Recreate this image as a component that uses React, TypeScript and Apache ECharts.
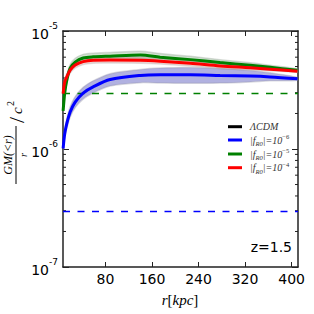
import React, { useEffect, useRef } from "react";
import * as echarts from "echarts";

const XMIN = 7;
const XMAX = 411;
const X_TICKS = [80, 160, 240, 320, 400];
const Y_MIN = 1e-7;
const Y_MAX = 1e-5;
const Y_MINOR = [2e-7, 3e-7, 4e-7, 5e-7, 6e-7, 7e-7, 8e-7, 9e-7, 2e-6, 3e-6, 4e-6, 5e-6, 6e-6, 7e-6, 8e-6, 9e-6];

const R = [7.2, 10, 13.6, 19.3, 27.9, 41.6, 58.8, 88, 140, 174, 226, 277, 329, 363, 410];

const BLUE = [1.01e-6, 1.35e-6, 1.65e-6, 2.06e-6, 2.5e-6, 2.98e-6, 3.36e-6, 3.88e-6, 4.2e-6, 4.25e-6, 4.25e-6, 4.2e-6, 4.15e-6, 4.08e-6, 3.93e-6];
const BLUE_LO = [0.94e-6, 1.24e-6, 1.5e-6, 1.86e-6, 2.24e-6, 2.65e-6, 2.98e-6, 3.42e-6, 3.65e-6, 3.62e-6, 3.6e-6, 3.62e-6, 3.7e-6, 3.78e-6, 3.82e-6];
const BLUE_HI = [1.09e-6, 1.47e-6, 1.81e-6, 2.28e-6, 2.78e-6, 3.33e-6, 3.78e-6, 4.35e-6, 4.72e-6, 4.85e-6, 4.9e-6, 4.8e-6, 4.62e-6, 4.42e-6, 4.05e-6];

const GREEN = [2.1e-6, 3.0e-6, 3.85e-6, 4.84e-6, 5.45e-6, 5.9e-6, 6.04e-6, 6.12e-6, 6.25e-6, 6.0e-6, 5.72e-6, 5.4e-6, 5.12e-6, 4.92e-6, 4.64e-6];
const GREEN_LO = [1.95e-6, 2.8e-6, 3.58e-6, 4.5e-6, 5.07e-6, 5.49e-6, 5.62e-6, 5.69e-6, 5.81e-6, 5.6e-6, 5.35e-6, 5.1e-6, 4.88e-6, 4.74e-6, 4.52e-6];
const GREEN_HI = [2.26e-6, 3.22e-6, 4.14e-6, 5.2e-6, 5.86e-6, 6.34e-6, 6.49e-6, 6.58e-6, 6.72e-6, 6.45e-6, 6.1e-6, 5.72e-6, 5.38e-6, 5.12e-6, 4.76e-6];

const RED = [2.95e-6, 3.7e-6, 4.1e-6, 4.66e-6, 5.14e-6, 5.5e-6, 5.65e-6, 5.67e-6, 5.65e-6, 5.55e-6, 5.33e-6, 5.06e-6, 4.88e-6, 4.75e-6, 4.57e-6];
const RED_LO = [2.78e-6, 3.49e-6, 3.87e-6, 4.4e-6, 4.85e-6, 5.19e-6, 5.33e-6, 5.35e-6, 5.33e-6, 5.25e-6, 5.05e-6, 4.82e-6, 4.68e-6, 4.6e-6, 4.48e-6];
const RED_HI = [3.13e-6, 3.92e-6, 4.35e-6, 4.94e-6, 5.45e-6, 5.83e-6, 5.99e-6, 6.01e-6, 5.99e-6, 5.86e-6, 5.6e-6, 5.3e-6, 5.1e-6, 4.92e-6, 4.66e-6];

const GREEN_THRESHOLD = 2.95e-6;
const BLUE_THRESHOLD = 2.95e-7;

const LEGEND = [
  { label: "{i|ΛCDM}", color: "#000000" },
  { label: "{i||f}{sub|R0}{i||=10}{sup|−6}", color: "#0000ff" },
  { label: "{i||f}{sub|R0}{i||=10}{sup|−5}", color: "#008000" },
  { label: "{i||f}{sub|R0}{i||=10}{sup|−4}", color: "#ff0000" },
];

const SERIF = '"Liberation Serif", "DejaVu Serif", serif';
const SANS = '"DejaVu Sans", sans-serif';

function band(lo: number[], hi: number[], fill: string, stroke: string) {
  return {
    type: "custom",
    silent: true,
    clip: true,
    data: [[R[0], hi[0]]],
    renderItem: (params: any, api: any) => {
      const pts: number[][] = [];
      for (let i = 0; i < R.length; i++) pts.push(api.coord([R[i], hi[i]]));
      for (let i = R.length - 1; i >= 0; i--) pts.push(api.coord([R[i], lo[i]]));
      return {
        type: "polygon",
        shape: { points: pts, smooth: 0.3 },
        style: { fill, stroke, lineWidth: 1.5 },
      };
    },
  };
}

function line(vals: number[], color: string) {
  return {
    type: "line",
    data: R.map((r, i) => [r, vals[i]]),
    symbol: "none",
    smooth: 0.3,
    lineStyle: { color, width: 3 },
    silent: true,
  };
}

function hline(v: number, color: string) {
  return {
    type: "line",
    data: [[XMIN, v], [XMAX, v]],
    symbol: "none",
    lineStyle: { color, width: 1.5, type: [7, 7.5] },
    silent: true,
  };
}

export default function App() {
  const ref = useRef<HTMLDivElement>(null);
  useEffect(() => {
    document.body.style.margin = "0";
    const chart = echarts.init(ref.current!, null, { renderer: "svg" });
    const axisLineStyle = { color: "#222", width: 1.5 };
    const legendChildren: any[] = [];
    const legendY = [126.7, 140, 154, 167.7];
    LEGEND.forEach((it, k) => {
      legendChildren.push({
        type: "line",
        shape: { x1: 228, y1: legendY[k], x2: 242, y2: legendY[k] },
        style: { stroke: it.color, lineWidth: 3 },
      });
      legendChildren.push({
        type: "text",
        x: 250,
        y: legendY[k],
        style: {
          text: it.label,
          verticalAlign: "middle",
          fill: "#333",
          rich: {
            i: { fontFamily: SERIF, fontStyle: "italic", fontSize: 10, lineHeight: 14, fill: "#333", verticalAlign: "middle" },
            sub: { fontFamily: SERIF, fontStyle: "italic", fontSize: 6.5, lineHeight: 14, fill: "#333", verticalAlign: "bottom" },
            sup: { fontFamily: SERIF, fontSize: 6.5, lineHeight: 14, fill: "#333", verticalAlign: "top" },
          },
        },
      });
    });

    chart.setOption({
      animation: false,
      grid: { left: 63, top: 31, right: 16, bottom: 47, containLabel: false },
      xAxis: [
        {
          type: "value",
          min: XMIN,
          max: XMAX,
          position: "bottom",
          axisLine: { show: true, onZero: false, lineStyle: axisLineStyle },
          axisTick: { show: true, inside: true, length: 5, customValues: X_TICKS, lineStyle: { color: "#222", width: 1 } },
          axisLabel: { customValues: X_TICKS, margin: 5, color: "#000", fontSize: 14, fontFamily: SANS },
          splitLine: { show: false },
        },
        {
          type: "value",
          min: XMIN,
          max: XMAX,
          position: "top",
          axisLine: { show: true, onZero: false, lineStyle: axisLineStyle },
          axisTick: { show: true, inside: true, length: 5, customValues: X_TICKS, lineStyle: { color: "#222", width: 1 } },
          axisLabel: { show: false },
          splitLine: { show: false },
        },
      ],
      yAxis: [
        {
          type: "log",
          logBase: 10,
          min: Y_MIN,
          max: Y_MAX,
          position: "left",
          axisLine: { show: true, onZero: false, lineStyle: axisLineStyle },
          axisTick: { show: true, inside: true, length: 6, lineStyle: { color: "#222", width: 1 } },
          axisLabel: {
            margin: 5,
            formatter: (v: number) => `{b|10}{s|${Math.round(Math.log10(v))}}`,
            rich: {
              b: { fontSize: 14, fontFamily: SANS, color: "#000", lineHeight: 20, verticalAlign: "bottom" },
              s: { fontSize: 9, fontFamily: SANS, color: "#000", lineHeight: 20, verticalAlign: "top" },
            },
          },
          splitLine: { show: false },
        },
        {
          type: "log",
          logBase: 10,
          min: Y_MIN,
          max: Y_MAX,
          position: "right",
          axisLine: { show: true, onZero: false, lineStyle: axisLineStyle },
          axisTick: { show: true, inside: true, length: 6, lineStyle: { color: "#222", width: 1 } },
          axisLabel: { show: false },
          splitLine: { show: false },
        },
      ],
      series: [
        {
          type: "custom",
          silent: true,
          data: Y_MINOR.map((v) => [XMIN, v]),
          renderItem: (params: any, api: any) => {
            const cs = params.coordSys;
            const y = api.coord([XMIN, api.value(1)])[1];
            return {
              type: "group",
              children: [
                { type: "line", shape: { x1: cs.x, y1: y, x2: cs.x + 3, y2: y }, style: { stroke: "#222", lineWidth: 1 } },
                { type: "line", shape: { x1: cs.x + cs.width - 3, y1: y, x2: cs.x + cs.width, y2: y }, style: { stroke: "#222", lineWidth: 1 } },
              ],
            };
          },
        },
        band(BLUE_LO, BLUE_HI, "rgba(70,70,180,0.42)", "rgba(150,150,165,0.35)"),
        band(GREEN_LO, GREEN_HI, "rgba(70,140,70,0.25)", "rgba(150,160,150,0.35)"),
        band(RED_LO, RED_HI, "rgba(200,100,90,0.25)", "rgba(165,150,150,0.3)"),
        hline(GREEN_THRESHOLD, "#008000"),
        hline(BLUE_THRESHOLD, "#0000ff"),
        line(BLUE, "#0000ff"),
        line(GREEN, "#008000"),
        line(RED, "#ff0000"),
      ],
      graphic: [
        {
          type: "group",
          x: 16,
          y: 184,
          rotation: Math.PI / 2,
          children: [
            { type: "line", shape: { x1: 0, y1: 0, x2: 58, y2: 0 }, style: { stroke: "#000", lineWidth: 1 } },
            { type: "text", x: 29, y: -2, style: { text: "GM(<r)", fontFamily: SERIF, fontStyle: "italic", fontSize: 12, align: "center", verticalAlign: "bottom", fill: "#000" } },
            { type: "text", x: 29, y: 2, style: { text: "r", fontFamily: SERIF, fontStyle: "italic", fontSize: 10, align: "center", verticalAlign: "top", fill: "#000" } },
            { type: "text", x: 61, y: 0, style: { text: "/", fontFamily: SERIF, fontSize: 22, align: "left", verticalAlign: "middle", fill: "#000" } },
            { type: "text", x: 70, y: 1, style: { text: "c", fontFamily: SERIF, fontStyle: "italic", fontSize: 15, align: "left", verticalAlign: "middle", fill: "#000" } },
            { type: "text", x: 78, y: -6, style: { text: "2", fontFamily: SERIF, fontSize: 10, align: "left", verticalAlign: "middle", fill: "#000" } },
          ],
        },
        {
          type: "text",
          x: 180,
          y: 300,
          style: {
            text: "{i|r}{n|[}{i|kpc}{n|]}",
            align: "center",
            verticalAlign: "middle",
            rich: {
              i: { fontFamily: SERIF, fontStyle: "italic", fontSize: 15, fill: "#000" },
              n: { fontFamily: SERIF, fontSize: 15, fill: "#000" },
            },
          },
        },
        {
          type: "text",
          x: 292,
          y: 247,
          style: { text: "z=1.5", fontFamily: SANS, fontSize: 14, align: "right", verticalAlign: "middle", fill: "#000" },
        },
        { type: "group", children: legendChildren },
      ],
    });
    return () => chart.dispose();
  }, []);
  return <div ref={ref} style={{ width: 314, height: 314 }} />;
}
